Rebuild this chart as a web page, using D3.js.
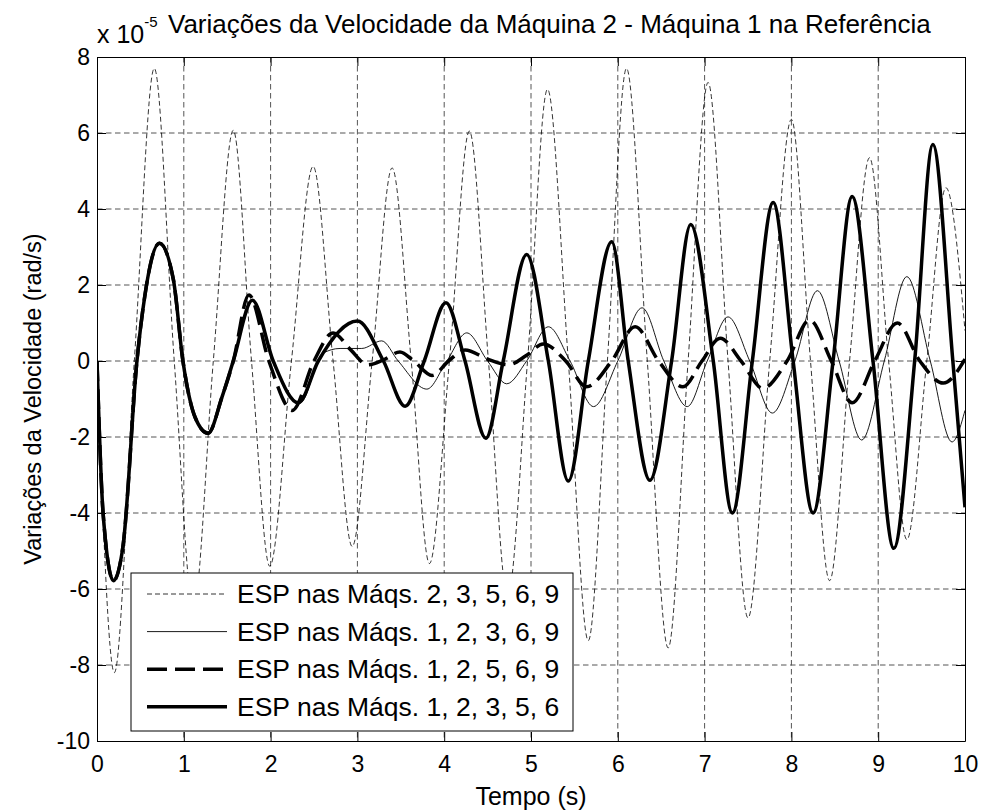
<!DOCTYPE html>
<html>
<head>
<meta charset="utf-8">
<script src="https://cdn.jsdelivr.net/npm/d3@7"></script>
<style>
  body { margin: 0; background: #fff; }
  svg text { font-family: "Liberation Sans", Arial, sans-serif; fill: #000; }
</style>
</head>
<body>
<div class="container"></div>
<script>
// legend labels, in plotting order
const labels = [
    "ESP nas Máqs. 2, 3, 5, 6, 9",
    "ESP nas Máqs. 1, 2, 3, 6, 9",
    "ESP nas Máqs. 1, 2, 5, 6, 9",
    "ESP nas Máqs. 1, 2, 3, 5, 6"
];

const xTicks = [0, 1, 2, 3, 4, 5, 6, 7, 8, 9, 10];
const yTicks = [-10, -8, -6, -4, -2, 0, 2, 4, 6, 8];

// values (units of 1e-5 rad/s)
const tEsp23569 = [0, 0.2, 0.43, 0.66, 0.89, 1.11, 1.34, 1.57, 1.78, 1.99, 2.24, 2.49, 2.72, 2.94, 3.17, 3.4, 3.62, 3.83,
    4.06, 4.29, 4.51, 4.73, 4.96, 5.19, 5.43, 5.66, 5.88, 6.1, 6.34, 6.58, 6.81, 7.04, 7.27, 7.5, 7.75, 8.0, 8.22, 8.44,
    8.67, 8.9, 9.12, 9.33, 9.56, 9.78, 10];
const vEsp23569 = [0, -8.2, 0, 7.7, 0, -6.5, 0, 6.07, 0, -5.4, 0, 5.12, 0, -4.88, 0, 5.08, 0, -5.33,
    0, 6.05, 0, -6.2, 0, 7.15, 0, -7.36, 0, 7.7, 0, -7.55, 0, 7.33, 0, -6.76, 0, 6.36, 0, -5.78,
    0, 5.35, 0, -4.7, 0, 4.56, 0.8];

const tEsp12369 = [0, 0.07, 0.19, 0.3, 0.46, 0.55, 0.72, 0.88, 0.99, 1.13, 1.28, 1.44, 1.57, 1.79, 2.03, 2.34, 2.6, 2.8,
    3.05, 3.28, 3.47, 3.8, 4.03, 4.26, 4.5, 4.72, 4.95, 5.2, 5.45, 5.72, 6.0, 6.28, 6.53, 6.8, 7.03, 7.27, 7.52, 7.78,
    8.04, 8.3, 8.55, 8.81, 9.07, 9.33, 9.6, 9.85, 10];
const vEsp12369 = [0, -4.0, -5.78, -4.86, 0, 1.7, 3.1, 2.14, 0, -1.48, -1.9, -0.95, 0, 1.6, 0, -1.1, 0.2, 0.33,
    0.33, 0.53, 0, -0.74, 0, 0.74, 0, -0.6, 0, 0.9, 0, -1.2, 0, 1.4, 0, -1.2, 0, 1.16, 0, -1.37,
    0, 1.85, 0, -2.08, 0, 2.22, 0, -2.13, -1.3];

const tEsp12569 = [0, 0.07, 0.19, 0.3, 0.46, 0.55, 0.72, 0.88, 0.99, 1.13, 1.28, 1.44, 1.57, 1.75, 1.98, 2.25, 2.5, 2.72,
    2.92, 3.12, 3.3, 3.49, 3.65, 3.86, 4.05, 4.24, 4.5, 4.74, 4.95, 5.14, 5.4, 5.64, 5.93, 6.2, 6.47, 6.75, 6.97, 7.18,
    7.42, 7.67, 7.95, 8.21, 8.46, 8.7, 8.96, 9.22, 9.48, 9.75, 10];
const vEsp12569 = [0, -4.0, -5.78, -4.86, 0, 1.7, 3.1, 2.14, 0, -1.48, -1.9, -0.95, 0, 1.74, 0, -1.3, 0, 0.74,
    0.3, -0.1, 0.03, 0.24, 0, -0.38, 0, 0.29, 0.05, -0.1, 0.15, 0.45, 0, -0.68, 0, 0.9, 0, -0.68, 0, 0.6,
    0, -0.72, 0, 1.08, 0, -1.1, 0, 1.0, 0, -0.58, 0.05];

const tEsp12356 = [0, 0.07, 0.19, 0.3, 0.46, 0.55, 0.72, 0.88, 0.99, 1.13, 1.28, 1.44, 1.57, 1.79, 2.03, 2.32, 2.55, 3.0,
    3.3, 3.55, 3.77, 4.02, 4.24, 4.48, 4.68, 4.95, 5.2, 5.43, 5.66, 5.93, 6.12, 6.37, 6.62, 6.84, 7.1, 7.32, 7.55, 7.79,
    8.02, 8.25, 8.48, 8.7, 8.94, 9.18, 9.42, 9.63, 9.86, 10];
const vEsp12356 = [0, -4.0, -5.78, -4.86, 0, 1.7, 3.1, 2.14, 0, -1.48, -1.9, -0.95, 0, 1.6, 0, -1.1, 0, 1.05,
    0, -1.19, 0, 1.53, 0, -2.03, 0, 2.8, 0, -3.16, 0, 3.14, 0, -3.14, 0, 3.59, 0, -4.0, 0, 4.17,
    0, -4.0, 0, 4.33, 0, -4.93, 0, 5.7, 0, -3.85];

const width = 981;
const height = 811;
const margin = {top: 57, right: 16, bottom: 70, left: 97};
const plotW = width - margin.left - margin.right;
const plotH = height - margin.top - margin.bottom;

const svg = d3.select("div.container")
    .append("svg")
    .attr("width", width)
    .attr("height", height);

const x = d3.scaleLinear().domain([0, 10]).range([0, plotW]);
const y = d3.scaleLinear().domain([-10, 8]).range([plotH, 0]);

const g = svg.append("g").attr("transform", `translate(${margin.left},${margin.top})`);

// grid
g.append("g").selectAll("line").data(xTicks.slice(1, -1)).enter().append("line")
    .attr("x1", d => x(d)).attr("x2", d => x(d)).attr("y1", 0).attr("y2", plotH)
    .attr("stroke", "#555").attr("stroke-dasharray", "5.5,3.5");
g.append("g").selectAll("line").data(yTicks.slice(1, -1)).enter().append("line")
    .attr("y1", d => y(d)).attr("y2", d => y(d)).attr("x1", 0).attr("x2", plotW)
    .attr("stroke", "#555").attr("stroke-dasharray", "5.5,3.5");

svg.append("clipPath").attr("id", "clip").append("rect").attr("width", plotW).attr("height", plotH);

const series = [
    {t: tEsp23569, v: vEsp23569, w: 0.8, dash: "5,3"},
    {t: tEsp12369, v: vEsp12369, w: 0.9, dash: null},
    {t: tEsp12569, v: vEsp12569, w: 3.5, dash: "20,8"},
    {t: tEsp12356, v: vEsp12356, w: 3.5, dash: null}
];

const line = d3.line()
    .x(d => x(d[0]))
    .y(d => y(d[1]))
    .curve(d3.curveMonotoneX);

const lines = g.append("g").attr("clip-path", "url(#clip)");
series.forEach(function(s) {
    lines.append("path")
        .datum(d3.zip(s.t, s.v))
        .attr("fill", "none")
        .attr("stroke", "#000")
        .attr("stroke-width", s.w)
        .attr("stroke-dasharray", s.dash)
        .attr("stroke-linejoin", "round")
        .attr("d", line);
});

// axes, ticks inward on all four sides
const fmt = d => String(d);
const xAxis = g.append("g").attr("transform", `translate(0,${plotH})`)
    .call(d3.axisBottom(x).tickValues(xTicks).tickFormat(fmt).tickSizeInner(-9).tickSizeOuter(0).tickPadding(15));
const xTop = g.append("g")
    .call(d3.axisTop(x).tickValues(xTicks).tickFormat("").tickSizeInner(-9).tickSizeOuter(0));
const yAxis = g.append("g")
    .call(d3.axisLeft(y).tickValues(yTicks).tickFormat(fmt).tickSizeInner(-9).tickSizeOuter(0).tickPadding(7));
const yRight = g.append("g").attr("transform", `translate(${plotW},0)`)
    .call(d3.axisRight(y).tickValues(yTicks).tickFormat("").tickSizeInner(-9).tickSizeOuter(0));

[xAxis, xTop, yAxis, yRight].forEach(a => {
    a.selectAll("path, line").attr("stroke", "#000");
    a.selectAll("text").attr("font-size", 23).attr("font-family", "Liberation Sans, Arial, sans-serif").attr("fill", "#000");
});

// legend
const legend = g.append("g").attr("transform", `translate(${131 - margin.left},${573 - margin.top})`);
legend.append("rect").attr("width", 442).attr("height", 158)
    .attr("fill", "#fff").attr("stroke", "#000");
labels.forEach(function(name, i) {
    const s = series[i];
    const ly = 21 + i * 37.6;
    legend.append("line")
        .attr("x1", 16).attr("x2", 96).attr("y1", ly).attr("y2", ly)
        .attr("stroke", "#000").attr("stroke-width", s.w).attr("stroke-dasharray", s.dash);
    legend.append("text")
        .attr("x", 106).attr("y", ly).attr("dy", "0.35em")
        .attr("font-size", 26.5)
        .text(name);
});

// labels
svg.append("text").attr("x", 168).attr("y", 33).attr("font-size", 26)
    .text("Variações da Velocidade da Máquina 2 - Máquina 1 na Referência");
const mult = svg.append("text").attr("x", 97).attr("y", 43).attr("font-size", 25);
mult.append("tspan").text("x 10");
mult.append("tspan").attr("dy", -16).attr("font-size", 15).text("-5");

svg.append("text").attr("x", margin.left + plotW / 2).attr("y", 805)
    .attr("text-anchor", "middle").attr("font-size", 25).text("Tempo (s)");
svg.append("text")
    .attr("transform", `translate(41,${margin.top + plotH / 2}) rotate(-90)`)
    .attr("text-anchor", "middle").attr("font-size", 23.5)
    .text("Variações da Velocidade (rad/s)");
</script>
</body>
</html>
